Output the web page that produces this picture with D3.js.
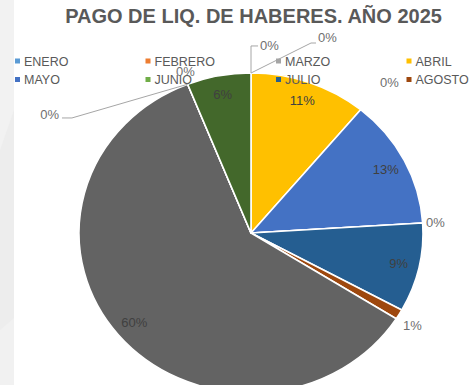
<!DOCTYPE html>
<html>
<head>
<meta charset="utf-8">
<script src="https://cdn.jsdelivr.net/npm/d3@7"></script>
<style>
  html, body { margin: 0; padding: 0; background: #ffffff; }
  svg { display: block; }
</style>
</head>
<body>
<svg id="chart" width="469" height="385"></svg>
<script>
// Monthly share of salary settlement payments, 2025
const months = ["ENERO", "FEBRERO", "MARZO", "ABRIL", "MAYO", "JUNIO",
                "JULIO", "AGOSTO", "SEPTIEMBRE", "OCTUBRE", "NOVIEMBRE", "DICIEMBRE"];
const shares = [0, 0, 0, 11, 13, 0, 9, 1, 60, 0, 0, 6];
const sliceColors = ["#5B9BD5", "#ED7D31", "#A5A5A5", "#FFC000", "#4472C4", "#70AD47",
                     "#255E91", "#9E480E", "#636363", "#997300", "#264478", "#43682B"];
const titleText = "PAGO DE LIQ. DE HABERES. AÑO 2025";
const legendCount = 8;   // entries that fit in the legend box

// Placement of labels drawn outside the pie, in units of the pie radii
// (text anchor point plus optional leader-line bends).
const outsideLabels = {
  0:  { text: [0.052, -1.144], anchor: "start", leader: [[0, -1.169], [0.041, -1.169]] },
  1:  { text: [0.390, -1.194], anchor: "start", leader: [[0.349, -1.1875], [0.378, -1.1875]] },
  2:  { text: [0.750, -0.9125], anchor: "start" },
  5:  { text: [1.017, -0.0375], anchor: "start" },
  7:  { text: [0.884, 0.606], anchor: "start" },
  9:  { text: [-1.116, -0.713], anchor: "end", leader: [[-1.041, -0.719], [-1.099, -0.719]] },
  10: { text: [-0.436, -0.981], anchor: "start" }
};

const W = 469, H = 385;
const cx = 251, cy = 233, rx = 172, ry = 160;
const svg = d3.select("#chart");

// slide background strip on the left
svg.append("rect").attr("x", 0).attr("y", 0).attr("width", 14).attr("height", H).attr("fill", "#ededed");
svg.append("path").attr("d", "M0,0 L14,0 L14,110 L0,150 Z").attr("fill", "#f2f2f2");
svg.append("path").attr("d", "M0,330 L14,318 L14,385 L0,385 Z").attr("fill", "#f1f1f1");

// title
svg.append("text")
  .attr("x", 253.5).attr("y", 23)
  .attr("text-anchor", "middle")
  .attr("font-family", "'Liberation Sans', Arial, sans-serif")
  .attr("font-weight", "bold")
  .attr("font-size", 20)
  .attr("fill", "#595959")
  .text(titleText);

// pie
const color = d3.scaleOrdinal().domain(months).range(sliceColors);
const pie = d3.pie().sort(null).value(d => d.value);
const arcs = pie(months.map((m, i) => ({ month: m, value: shares[i], i })));
const arc = d3.arc().innerRadius(0).outerRadius(ry);
const sx = rx / ry;
const toScreen = (u, v) => [cx + u * rx, cy + v * ry];

const pieG = svg.append("g").attr("transform", `translate(${cx},${cy}) scale(${sx},1)`);
pieG.selectAll("path")
  .data(arcs)
  .join("path")
  .attr("d", arc)
  .attr("fill", d => color(d.data.month))
  .attr("stroke", "#ffffff")
  .attr("stroke-width", 1.6)
  .attr("stroke-linejoin", "round")
  .attr("vector-effect", "non-scaling-stroke");

// legend (two rows of four)
const legend = svg.append("g")
  .attr("font-family", "'Liberation Sans', Arial, sans-serif")
  .attr("font-size", 12.5)
  .attr("fill", "#595959");
const legendX = d3.scalePoint().domain(d3.range(4)).range([15, 406.5]);
const legendY = d3.scalePoint().domain(d3.range(2)).range([61, 79.5]);
const legendItems = legend.selectAll("g")
  .data(months.slice(0, legendCount))
  .join("g")
  .attr("transform", (d, i) => `translate(${legendX(i % 4)},${legendY(Math.floor(i / 4))})`);
legendItems.append("rect")
  .attr("x", 0).attr("y", -2.5).attr("width", 5).attr("height", 5)
  .attr("fill", d => color(d));
legendItems.append("text")
  .attr("x", 9).attr("y", 4.5)
  .text(d => d);

// data labels
const labelR = ry * 0.88;
const labelArc = d3.arc().innerRadius(labelR).outerRadius(labelR);
const labels = svg.append("g")
  .attr("font-family", "'Liberation Sans', Arial, sans-serif")
  .attr("font-size", 13);

arcs.forEach(d => {
  const i = d.data.i;
  const txt = d.data.value + "%";
  const spec = outsideLabels[i];
  if (spec) {
    if (spec.leader) {
      const a = (d.startAngle + d.endAngle) / 2;
      const start = [cx + Math.sin(a) * rx, cy - Math.cos(a) * ry];
      const pts = [start].concat(spec.leader.map(p => toScreen(p[0], p[1])));
      labels.append("path")
        .attr("d", d3.line()(pts))
        .attr("fill", "none")
        .attr("stroke", "#a6a6a6")
        .attr("stroke-width", 1);
    }
    const [tx, ty] = toScreen(spec.text[0], spec.text[1]);
    labels.append("text")
      .attr("x", tx).attr("y", ty)
      .attr("text-anchor", spec.anchor)
      .attr("fill", "#6f6f6f")
      .text(txt);
  } else {
    const [px, py] = labelArc.centroid(d);
    labels.append("text")
      .attr("x", cx + px * sx).attr("y", cy + py + 4.5)
      .attr("text-anchor", "middle")
      .attr("fill", "#404040")
      .text(txt);
  }
});
</script>
</body>
</html>
